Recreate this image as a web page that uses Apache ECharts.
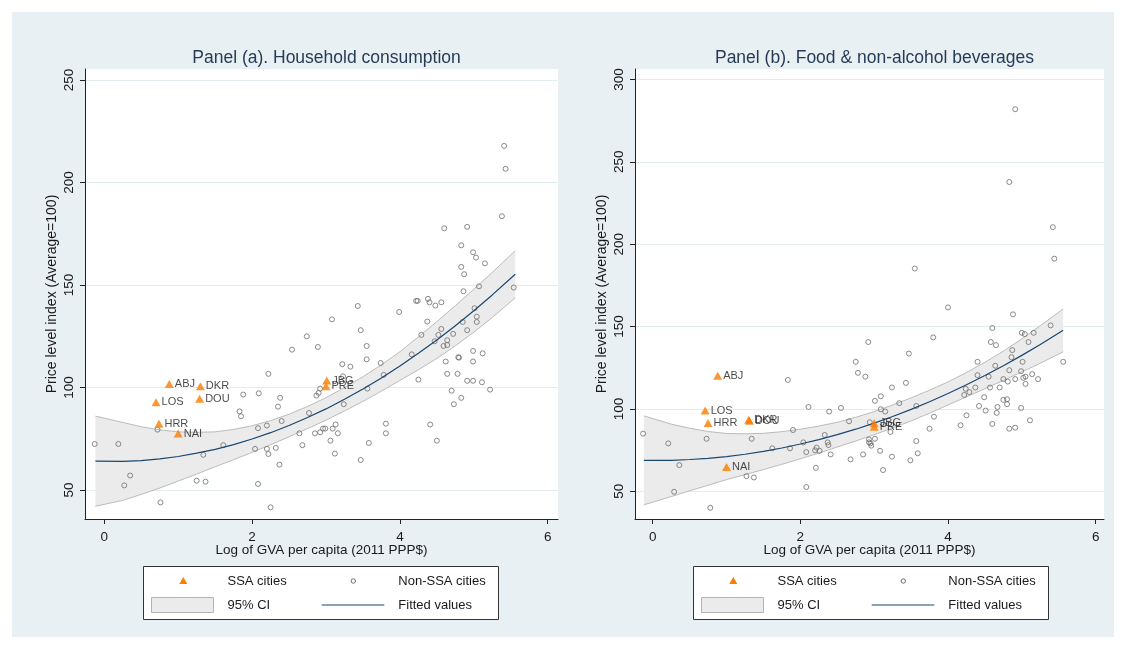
<!DOCTYPE html>
<html>
<head>
<meta charset="utf-8">
<script src="https://cdn.jsdelivr.net/npm/echarts@6/dist/echarts.min.js"></script>
<style>
  html, body { margin: 0; padding: 0; background: #ffffff; }
  #chart { width: 1126px; height: 649px; }
</style>
</head>
<body>
<div id="chart"></div>
<script>
// ---- Data -------------------------------------------------------------
const panelTitles = ['Panel (a). Household consumption', 'Panel (b). Food & non-alcohol beverages'];
const xAxisName = 'Log of GVA per capita (2011 PPP$)';
const yAxisName = 'Price level index (Average=100)';
const xTicks = [0, 2, 4, 6];
const yTicksA = [50, 100, 150, 200, 250];
const yTicksB = [50, 100, 150, 200, 250, 300];

const ssaCities = ['ABJ', 'DKR', 'DOU', 'LOS', 'HRR', 'NAI', 'JBG', 'PRE'];
const ssaXA = [0.88, 1.30, 1.29, 0.70, 0.74, 1.00, 3.01, 3.00];
const ssaYA = [101.8, 100.6, 94.5, 92.8, 82.4, 77.6, 103.4, 100.6];
const ssaXB = [0.88, 1.30, 1.31, 0.71, 0.75, 1.00, 3.00, 3.00];
const ssaYB = [120.1, 93.5, 92.8, 99.0, 91.5, 64.7, 91.3, 89.2];

// Non-SSA cities: [log GVA per capita, price level index]
const otherA = [
  [-0.13,72.5],[0.19,72.5],[0.27,52.3],[0.35,57.1],[0.76,44.0],[0.72,79.5],[1.25,54.6],[1.37,54.1],
  [1.34,67.2],[1.61,71.9],[1.83,88.4],[1.85,86.0],[1.88,96.6],[2.04,70.1],[2.08,80.2],[2.09,97.2],
  [2.08,53.0],[2.20,81.5],[2.20,70.1],[2.22,67.6],[2.22,106.7],[2.25,41.6],[2.32,70.6],[2.35,90.7],
  [2.37,62.4],[2.38,95.0],[2.40,83.7],[2.54,118.5],[2.64,77.7],[2.68,71.9],[2.74,125.0],[2.77,87.6],
  [2.85,77.7],[2.87,96.1],[2.89,119.8],[2.90,97.4],[2.92,99.5],[2.92,78.2],[2.96,80.0],[2.99,80.0],
  [3.09,80.0],[3.06,74.1],[3.08,133.3],[3.13,82.0],[3.16,77.7],[3.12,67.8],[3.22,111.4],[3.23,105.5],
  [3.24,91.9],[3.33,110.2],[3.43,139.8],[3.47,128.0],[3.47,64.7],[3.55,120.3],[3.55,113.8],[3.56,99.5],
  [3.58,73.0],[3.74,112.0],[3.78,106.2],[3.81,82.4],[3.81,77.7],[3.99,136.9],[4.16,116.2],[4.22,142.3],
  [4.24,142.3],[4.25,103.9],[4.29,125.7],[4.37,132.2],[4.38,143.3],[4.40,141.6],[4.41,82.0],[4.48,140.0],
  [4.50,74.1],[4.56,141.6],[4.56,128.6],[4.52,125.7],[4.47,122.6],[4.59,120.3],[4.62,112.7],[4.64,123.1],
  [4.64,120.8],[4.64,106.7],[4.70,98.5],[4.72,126.2],[4.73,91.9],[4.78,106.7],[4.79,114.8],[4.80,114.6],
  [4.83,95.0],[4.85,132.0],[4.86,147.0],[4.91,128.0],[4.91,103.3],[4.99,103.3],[4.99,117.9],[4.99,112.7],
  [5.01,138.7],[5.04,134.6],[5.04,132.0],[5.07,149.4],[5.11,102.6],[5.12,116.7],[5.22,99.0],[5.54,148.8],
  [5.41,217.9],[5.43,206.7],[5.38,183.6],[4.60,177.7],[4.91,178.4],[4.83,169.4],[4.99,166.0],[5.03,163.4],
  [5.15,160.6],[4.83,158.9],[4.87,155.3]
];
const otherB = [
  [-0.13,85.0],[0.21,79.1],[0.36,65.9],[0.29,49.7],[0.78,40.0],[0.73,81.9],[1.27,59.2],[1.37,58.4],
  [1.34,81.9],[1.62,76.1],[1.83,117.6],[1.86,76.1],[1.90,87.2],[2.04,79.7],[2.08,73.8],[2.08,52.6],
  [2.11,101.2],[2.20,74.9],[2.22,76.5],[2.21,64.3],[2.26,74.6],[2.33,84.2],[2.37,79.7],[2.39,98.4],
  [2.38,78.1],[2.41,72.4],[2.55,100.6],[2.66,92.5],[2.68,69.4],[2.75,128.6],[2.78,121.9],[2.85,72.4],
  [2.88,119.6],[2.92,140.6],[2.94,91.9],[2.93,81.5],[2.93,79.7],[2.95,79.1],[2.96,77.7],[3.01,104.9],
  [3.01,81.9],[3.08,74.6],[3.09,107.7],[3.09,99.8],[3.12,62.9],[3.15,98.4],[3.22,86.0],[3.24,71.0],
  [3.24,113.0],[3.34,103.5],[3.43,115.8],[3.47,133.6],[3.49,68.8],[3.57,101.8],[3.57,80.5],[3.59,73.1],
  [3.75,88.0],[3.80,143.4],[3.81,95.3],[4.00,161.6],[4.17,90.1],[4.22,108.5],[4.24,112.2],[4.25,96.1],
  [4.29,110.2],[4.37,113.0],[4.40,128.6],[4.40,120.5],[4.42,101.8],[4.49,107.1],[4.51,99.0],[4.55,119.6],
  [4.57,113.0],[4.60,149.1],[4.58,140.6],[4.65,138.7],[4.64,126.2],[4.60,90.9],[4.66,97.6],[4.67,101.2],
  [4.70,113.0],[4.75,105.5],[4.75,118.1],[4.80,105.9],[4.80,102.9],[4.81,116.6],[4.83,88.0],[4.83,123.5],
  [4.86,131.4],[4.87,135.7],[4.88,157.4],[4.91,88.6],[4.91,118.1],[4.99,100.6],[4.99,122.9],[5.01,128.6],
  [5.00,146.2],[5.04,145.4],[5.02,118.9],[5.05,119.6],[5.05,115.2],[5.09,140.6],[5.11,93.1],[5.14,121.1],
  [5.16,146.2],[5.22,118.1],[5.39,150.7],[5.56,128.6],[4.91,281.9],[4.83,237.7],[5.42,210.3],[5.44,191.2],
  [3.55,185.2]
];

// Quadratic fit and its 95% confidence band, read at these x positions
const fitX = [-0.12, 0.25, 0.5, 0.75, 1.0, 1.25, 1.5, 1.75, 2.0, 2.25, 2.5, 2.75,
              3.0, 3.25, 3.5, 3.75, 4.0, 4.25, 4.5, 4.75, 5.0, 5.25, 5.56];
const fitA   = [64.1, 64.0, 64.4, 65.2, 66.4, 68.0, 69.9, 72.2, 74.9, 78.0, 81.5, 85.4,
                89.6, 94.3, 99.3, 104.7, 110.5, 116.7, 123.2, 130.2, 137.5, 145.2, 155.3];
const upperA = [86.1, 83.0, 80.9, 79.4, 78.4, 78.2, 78.4, 79.6, 81.4, 83.9, 87.0, 90.8,
                95.1, 100.0, 105.3, 111.1, 117.5, 124.7, 132.2, 140.0, 148.0, 156.2, 166.8];
const lowerA = [42.1, 45.0, 47.9, 51.0, 54.4, 57.8, 61.4, 64.8, 68.4, 72.1, 76.0, 80.0,
                84.1, 88.6, 93.3, 98.3, 103.5, 108.7, 114.2, 120.4, 127.0, 134.2, 143.8];
const fitB   = [68.8, 68.8, 69.3, 70.0, 71.1, 72.5, 74.2, 76.3, 78.7, 81.4, 84.4, 87.7,
                91.4, 95.4, 99.7, 104.4, 109.4, 114.7, 120.3, 126.2, 132.5, 139.1, 147.7];
const upperB = [95.8, 90.8, 88.3, 86.3, 85.1, 84.9, 85.2, 86.2, 87.7, 89.6, 91.9, 94.9,
                98.4, 102.4, 106.7, 111.4, 116.4, 122.1, 128.3, 135.1, 142.5, 150.5, 160.7];
const lowerB = [41.8, 46.8, 50.3, 53.7, 57.1, 60.1, 63.2, 66.4, 69.7, 73.2, 76.9, 80.5,
                84.4, 88.4, 92.7, 97.4, 102.4, 107.3, 112.3, 117.3, 122.5, 127.7, 134.7];

// ---- Styling ----------------------------------------------------------
const FONT = '"Liberation Sans", Arial, sans-serif';
const ORANGE = '#fa7d00';
const NAVY = '#1a476f';
const CI_FILL = '#ebebeb';
const CI_EDGE = '#b4b4b4';
const CIRCLE = '#6e6e6e';
const GRIDLINE = '#e3edf0';
const PANEL_BG = '#e9f0f3';
const TEXT = '#1a1a1a';

const grids = [
  { left: 85, top: 69, width: 473, height: 450 },
  { left: 635, top: 69, width: 469, height: 450 }
];
const xRange = [[-0.261, 6.139], [-0.240, 6.113]];
const yRange = [[35.9, 255.4], [33.2, 306.3]];
const yTicks = [yTicksA, yTicksB];

function makeXAxis(i) {
  return {
    type: 'value', gridIndex: i, min: xRange[i][0], max: xRange[i][1],
    name: xAxisName, nameLocation: 'middle', nameGap: 24, nameMoveOverlap: false,
    nameTextStyle: { fontFamily: FONT, fontSize: 13.5, color: TEXT },
    axisLine: { show: true, onZero: false, lineStyle: { color: '#222', width: 1 } },
    axisTick: { show: true, length: 5, customValues: xTicks, lineStyle: { color: '#222' } },
    axisLabel: { customValues: xTicks, margin: 11, fontFamily: FONT, fontSize: 13.5, color: TEXT },
    splitLine: { show: false }
  };
}
function makeYAxis(i) {
  return {
    type: 'value', gridIndex: i, min: yRange[i][0], max: yRange[i][1],
    name: yAxisName, nameLocation: 'middle', nameGap: 26,
    nameTextStyle: { fontFamily: FONT, fontSize: 14, color: TEXT },
    axisLine: { show: true, onZero: false, lineStyle: { color: '#222', width: 1 } },
    axisTick: { show: true, length: 5, customValues: yTicks[i], lineStyle: { color: '#222' } },
    axisLabel: { customValues: yTicks[i], rotate: 90, margin: 9, fontFamily: FONT, fontSize: 13.5, color: TEXT },
    splitLine: { show: true, lineStyle: { color: GRIDLINE, width: 1 } }
  };
}

function panelSeries(i, upper, lower, fit, others, ssaX, ssaY) {
  const bandPts = fitX.map((x, k) => [x, lower[k], upper[k]]);
  const upperPts = fitX.map((x, k) => [x, upper[k]]);
  const lowerPts = fitX.map((x, k) => [x, lower[k]]);
  const fitPts = fitX.map((x, k) => [x, fit[k]]);
  const ssaPts = ssaX.map((x, k) => ({ name: ssaCities[k], value: [x, ssaY[k]] }));
  const edge = (name, pts) => ({
    name: name, type: 'line', xAxisIndex: i, yAxisIndex: i, data: pts,
    symbol: 'none', z: 3, silent: true, lineStyle: { color: CI_EDGE, width: 0.9 }
  });
  return [
    {
      // confidence band fill: polygon along the upper edge and back along the lower edge
      name: '95% CI', type: 'custom', xAxisIndex: i, yAxisIndex: i, z: 1, silent: true,
      data: bandPts,
      encode: { x: 0, y: [1, 2] },
      renderItem: function (params, api) {
        if (params.dataIndex !== 0) return null;
        const top = bandPts.map(p => api.coord([p[0], p[2]]));
        const bottom = bandPts.map(p => api.coord([p[0], p[1]])).reverse();
        return { type: 'polygon', shape: { points: top.concat(bottom) }, style: { fill: CI_FILL } };
      }
    },
    edge('95% CI upper', upperPts),
    edge('95% CI lower', lowerPts),
    {
      name: 'Non-SSA cities', type: 'scatter', xAxisIndex: i, yAxisIndex: i,
      data: others, symbol: 'circle', symbolSize: 5, z: 4,
      itemStyle: { color: 'rgba(0,0,0,0)', borderColor: CIRCLE, borderWidth: 1 }
    },
    {
      name: 'Fitted values', type: 'line', xAxisIndex: i, yAxisIndex: i,
      data: fitPts, symbol: 'none', z: 5,
      lineStyle: { color: NAVY, width: 1.2 }
    },
    {
      name: 'SSA cities', type: 'scatter', xAxisIndex: i, yAxisIndex: i,
      data: ssaPts, symbol: 'triangle', symbolSize: [9, 8], z: 6,
      itemStyle: { color: ORANGE },
      label: {
        show: true, position: 'right', distance: 1, formatter: '{b}',
        fontFamily: FONT, fontSize: 11, color: TEXT
      }
    }
  ];
}

// Legend box drawn below each panel
function legendBox(dx) {
  const t = (txt, x, y) => ({
    type: 'text', x: x + dx, y: y,
    style: { text: txt, fill: TEXT, font: '13px ' + FONT, verticalAlign: 'middle', align: 'left' }
  });
  return [
    { type: 'rect', shape: { x: 143.5 + dx, y: 566.5, width: 355, height: 53 },
      style: { fill: '#ffffff', stroke: '#333333', lineWidth: 1 } },
    { type: 'polygon', shape: { points: [[183.3 + dx, 577], [187.3 + dx, 584], [179.3 + dx, 584]] },
      style: { fill: ORANGE } },
    t('SSA cities', 227.5, 581),
    { type: 'circle', shape: { cx: 353.3 + dx, cy: 581, r: 2.2 },
      style: { fill: 'none', stroke: CIRCLE, lineWidth: 1 } },
    t('Non-SSA cities', 398.3, 581),
    { type: 'rect', shape: { x: 151.5 + dx, y: 597.5, width: 62, height: 15 },
      style: { fill: CI_FILL, stroke: CI_EDGE, lineWidth: 1 } },
    t('95% CI', 227.5, 605),
    { type: 'line', shape: { x1: 321.7 + dx, y1: 605, x2: 384.3 + dx, y2: 605 },
      style: { stroke: NAVY, lineWidth: 1.2 } },
    t('Fitted values', 398.3, 605)
  ];
}

const chart = echarts.init(document.getElementById('chart'), null, { renderer: 'canvas' });
chart.setOption({
  animation: false,
  backgroundColor: '#ffffff',
  title: panelTitles.map((txt, i) => ({
    text: txt,
    left: grids[i].left + grids[i].width / 2, top: 44, textAlign: 'center',
    textStyle: { fontFamily: FONT, fontSize: 17.5, fontWeight: 'normal', color: '#263c56' }
  })),
  graphic: [
    { type: 'rect', z: -10, silent: true, shape: { x: 12, y: 12, width: 1102, height: 625 },
      style: { fill: PANEL_BG } }
  ].concat(legendBox(0), legendBox(550)),
  grid: grids.map(g => Object.assign({ show: true, backgroundColor: '#ffffff', borderWidth: 0 }, g)),
  xAxis: [makeXAxis(0), makeXAxis(1)],
  yAxis: [makeYAxis(0), makeYAxis(1)],
  series: panelSeries(0, upperA, lowerA, fitA, otherA, ssaXA, ssaYA)
    .concat(panelSeries(1, upperB, lowerB, fitB, otherB, ssaXB, ssaYB))
});
</script>
</body>
</html>
